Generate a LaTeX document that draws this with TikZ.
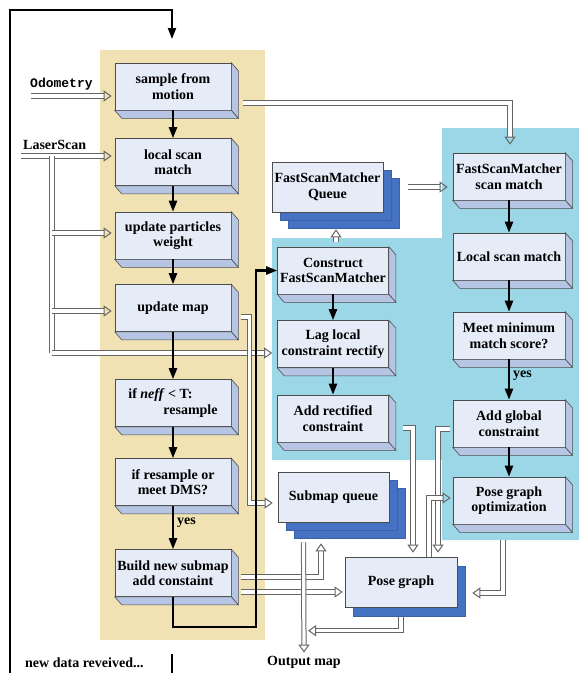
\documentclass[tikz,border=0pt]{standalone}
\usepackage{fontspec}
\setmainfont{Liberation Serif}
\setmonofont{Liberation Mono}
\usetikzlibrary{arrows.meta, shadows}
\definecolor{Tan}{RGB}{240,226,178}
\definecolor{SkyCyan}{RGB}{155,215,230}
\definecolor{BoxFront}{RGB}{229,235,247}
\definecolor{BoxSide}{RGB}{182,197,227}
\definecolor{QueueBlue}{RGB}{70,114,196}

\begin{document}
\begin{tikzpicture}[x=1pt, y=-1pt,
  bx/.style   = {rectangle, draw=black!70, fill=BoxFront, line width=0.6pt,
                 minimum width=116pt, minimum height=47pt, inner sep=1pt,
                 align=center, font=\bfseries\fontsize{14}{15.5}\selectfont},
  mbx/.style  = {bx, minimum width=111pt},
  rbx/.style  = {bx, minimum width=112pt},
  qbx/.style  = {mbx, minimum height=50pt,
                 double copy shadow={shadow xshift=8pt, shadow yshift=-8pt,
                 fill=QueueBlue, draw=QueueBlue!85!black}},
  pbx/.style  = {mbx, minimum width=112pt, minimum height=50pt,
                 copy shadow={shadow xshift=8pt, shadow yshift=-9pt,
                 fill=QueueBlue, draw=QueueBlue!85!black}},
  side/.style = {fill=BoxSide, draw=black!70, line width=0.6pt},
  blk/.style  = {line width=2.2pt, -{Triangle[length=11pt, width=8pt]}},
  hol/.style  = {draw=black!60, double=white, double distance=3.2pt,
                 line width=1pt, -{Triangle[open, length=8pt, width=11pt]}},
  lbl/.style  = {inner sep=0pt, font=\bfseries\fontsize{14}{15}\selectfont},
]
\useasboundingbox (0,0) rectangle (579,673);

% background areas
\fill[Tan] (100,50) rectangle (265,640);
\fill[SkyCyan] (442,128) -- (579,128) -- (579,540) -- (442,540) -- (442,460)
  -- (272,460) -- (272,238) -- (442,238) -- cycle;

% left column
\node[bx] (smp) at (173, 86.5) {sample from\\motion};
\node[bx] (lsm) at (173,162.0) {local scan\\match};
\node[bx] (upw) at (173,235.5) {update particles\\weight};
\node[bx] (upm) at (173,308.0) {update map};
\node[bx, align=left] (nef) at (173,403.0)
  {if \textit{neff} < T:\\\hspace*{35pt}resample};
\node[bx] (dms) at (173,482.0) {if resample or\\meet DMS?};
\node[bx] (bns) at (173,573.0) {Build new submap\\add constaint};

% middle column
\node[qbx] (fsq) at (327.5,187.0) {FastScanMatcher\\Queue};
\node[mbx] (cfm) at (333,270.5) {Construct\\FastScanMatcher};
\node[mbx] (lag) at (333,344.0) {Lag local\\constraint rectify};
\node[mbx] (arc) at (333,418.5) {Add rectified\\constraint};
\node[qbx] (smq) at (333.5,497.0) {Submap queue};
\node[pbx] (pg)  at (401,582.0) {Pose graph};

% right column
\node[rbx] (fsm) at (509,176.5) {FastScanMatcher\\scan match};
\node[rbx] (lsr) at (509,256.5) {Local scan match};
\node[rbx] (mms) at (509,335.5) {Meet minimum\\match score?};
\node[rbx] (agc) at (509,423.5) {Add global\\constraint};
\node[rbx] (pgo) at (509,500.5) {Pose graph\\optimization};

\foreach \n in {smp,lsm,upw,upm,nef,dms,bns,cfm,lag,arc,fsm,lsr,mms,agc,pgo}{
  \filldraw[side] (\n.north east) -- ++(7,8)
    -- ([shift={(7,8)}]\n.south east) -- (\n.south east) -- cycle;
  \filldraw[side] (\n.south west) -- ++(7,8)
    -- ([shift={(7,8)}]\n.south east) -- (\n.south east) -- cycle;
}

% labels
\node[anchor=west, inner sep=0pt,
  font=\ttfamily\bfseries\fontsize{13}{14}\selectfont] (odo) at (30,84) {Odometry};
\node[lbl, anchor=west] (lsc) at (23,145) {LaserScan};
\node[lbl, anchor=west] (ndr) at (25,663) {new data reveived...};
\node[lbl] (om) at (304,662) {Output map};

\coordinate (odo0) at (31,96);
\coordinate (ls0)  at (21,156);
\coordinate (lsj)  at (52,156);
\coordinate (lsb)  at (52,353);
\coordinate (b1)   at (52,233);
\coordinate (b2)   at (52,311);
\coordinate (lp)   at (256,627);
\coordinate (tl)   at (10,10);
\coordinate (bl)   at (10,673);
\coordinate (tr)   at (172,10);
\coordinate (topin) at (172,39);
\coordinate (nb1)  at (172,654);
\coordinate (nb2)  at (172,673);

% hollow arrows
\draw[hol] (odo0) -- ([xshift=-3pt,yshift=-9.5pt]smp.west);
\draw[hol] (ls0) -- ([xshift=-3pt,yshift=6pt]lsm.west);
\draw[hol, -] (lsj) -- (lsb);
\draw[hol] (lsb) -- ([xshift=-5pt,yshift=-9pt]lag.west);
\draw[hol] (b1) -- ([xshift=-3pt,yshift=2.5pt]upw.west);
\draw[hol] (b2) -- ([xshift=-3pt,yshift=-3pt]upm.west);
\draw[hol] ([xshift=12pt,yshift=-16.5pt]smp.east) -| ([xshift=1pt,yshift=8pt]fsm.north);
\draw[hol] ([xshift=25pt]fsq.east) -- ([xshift=-5pt,yshift=-10.5pt]fsm.west);
\draw[hol] ([xshift=3pt,yshift=5pt]cfm.north) -- ([xshift=8.5pt,yshift=-17pt]fsq.south);
\draw[hol] ([xshift=10pt,yshift=-9pt]upm.east) -- ++(8,0)
  |- ([xshift=-5pt,yshift=-6pt]smq.west);
\draw[hol] ([xshift=10pt,yshift=-4pt]bns.east) -| ([xshift=-12.5pt,yshift=-21pt]smq.south);
\draw[hol] ([xshift=10pt,yshift=-19pt]bns.east) -- ([xshift=-2pt,yshift=-10pt]pg.west);
\draw[hol] ([xshift=-30pt,yshift=-20pt]smq.south) -- ([yshift=3pt]om.north);
\draw[hol] ([yshift=-10pt]pg.south) |- ([xshift=4pt,yshift=25pt]om.north);
\draw[hol] ([xshift=14pt,yshift=-9.5pt]arc.east) -| ([xshift=12pt,yshift=4pt]pg.north);
\draw[hol] ([xshift=-3pt,yshift=-5.5pt]agc.west) -| ([xshift=37pt,yshift=4pt]pg.north);
\draw[hol] ([xshift=28pt]pg.north) |- ([xshift=-2pt,yshift=2.5pt]pgo.west);
\draw[hol] ([xshift=-6pt,yshift=-16pt]pgo.south) |- ([xshift=15pt,yshift=-11pt]pg.east);

% black flow
\draw[blk] (smp) -- (lsm);
\draw[blk] (lsm) -- (upw);
\draw[blk] (upw) -- (upm);
\draw[blk] (upm) -- (nef);
\draw[blk] (nef) -- (dms);
\draw[blk] (dms) -- node[lbl, right=3pt, pos=0.4] {yes} (bns);
\draw[blk] (cfm) -- (lag);
\draw[blk] (lag) -- (arc);
\draw[blk] (fsm) -- (lsr);
\draw[blk] (lsr) -- (mms);
\draw[blk] (mms) -- node[lbl, right=3pt, pos=0.4] {yes} (agc);
\draw[blk] (agc) -- (pgo);
\draw[blk] (bns.south) |- (lp) |- (cfm.west);

% outer loop
\draw[blk, line width=2pt] (bl) -- (tl) -- (tr) -- (topin);
\draw[line width=2pt] (nb1) -- (nb2);

\end{tikzpicture}
\end{document}
